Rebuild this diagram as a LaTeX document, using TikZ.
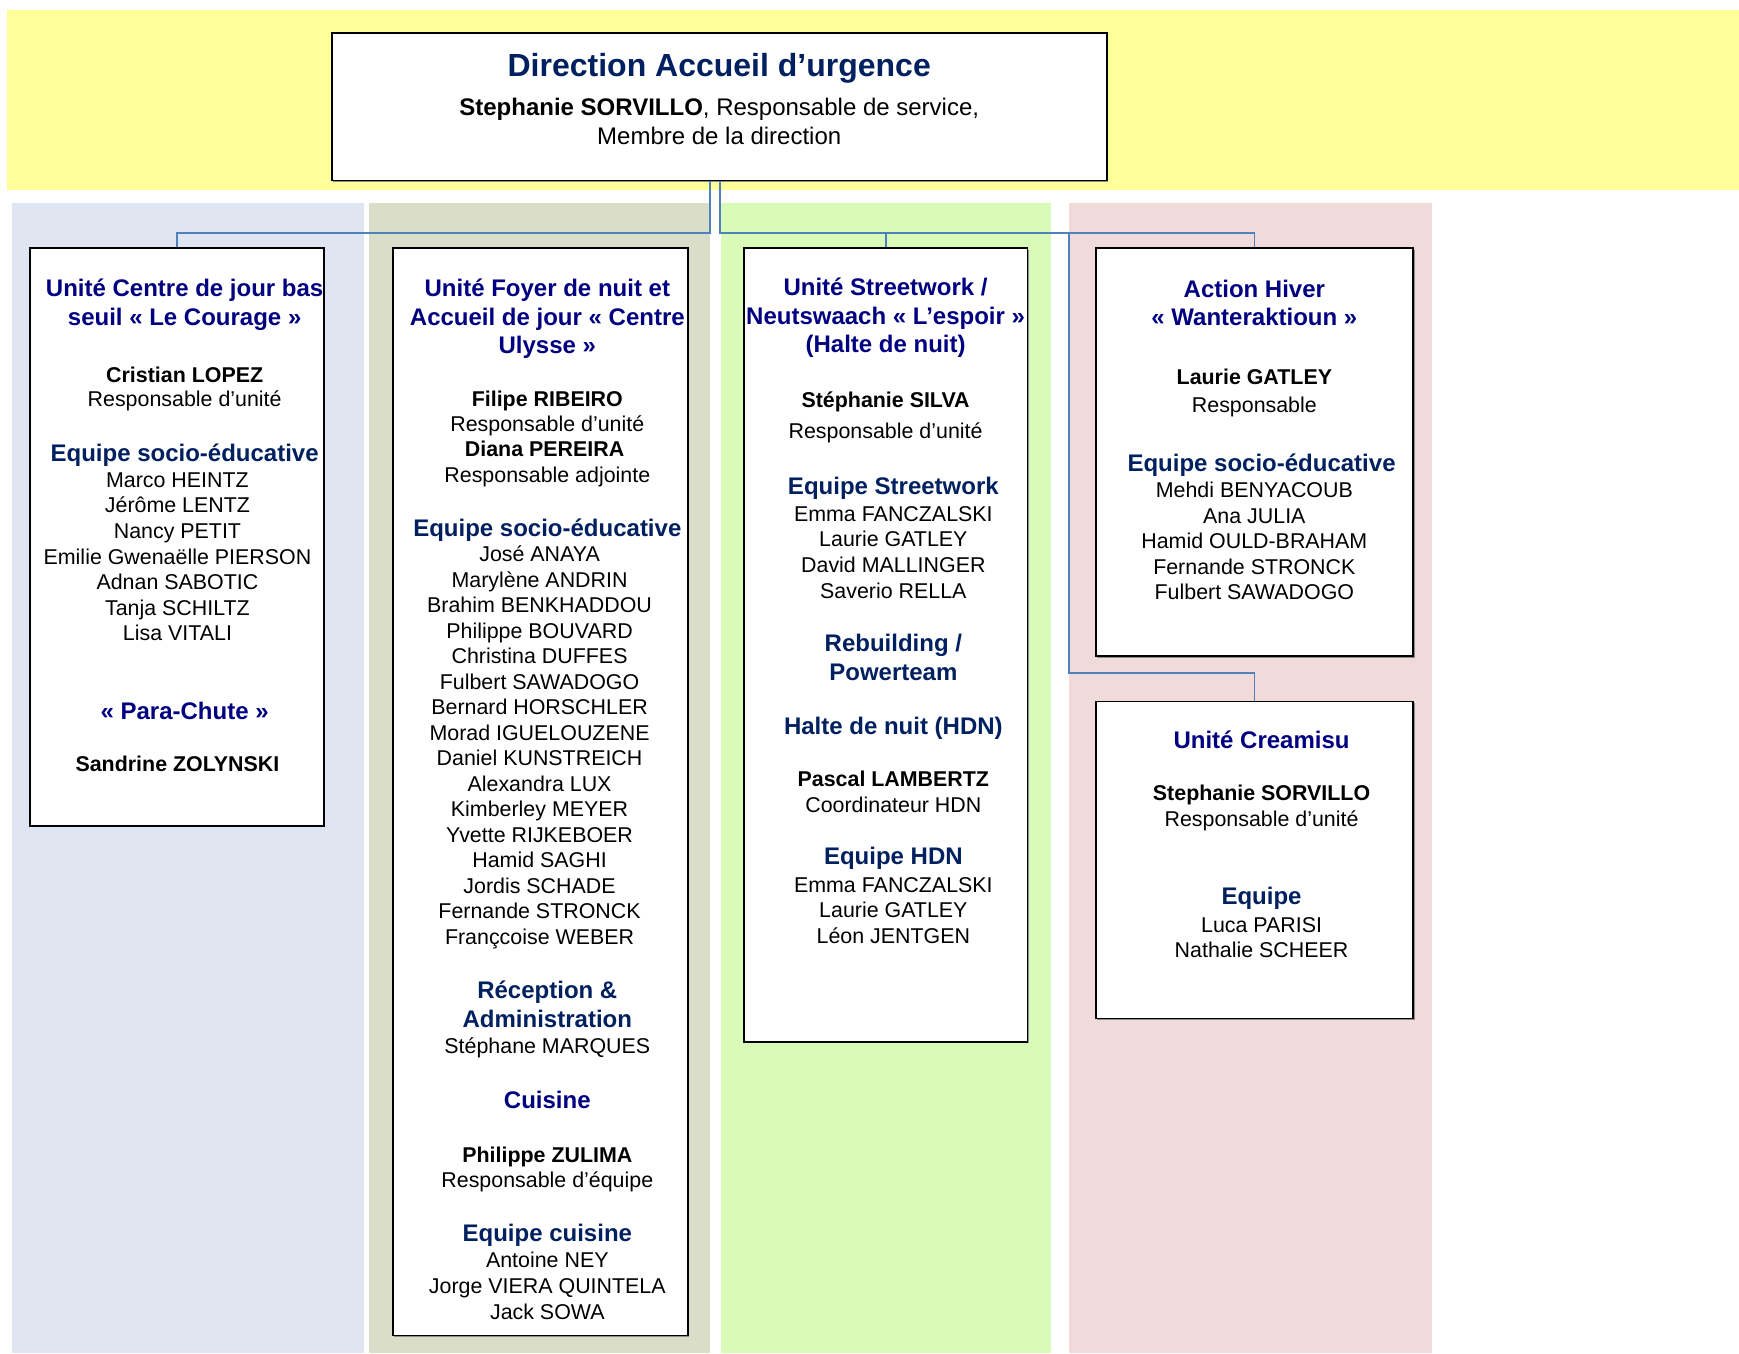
\documentclass[tikz,border=0pt]{standalone}
\usepackage{fontspec}
\setmainfont{Liberation Sans}
\usetikzlibrary{shadows,fit}
\definecolor{navyt}{HTML}{000080}
\definecolor{darkh}{HTML}{002060}
\definecolor{connc}{HTML}{4F81BD}
\definecolor{bandY}{HTML}{FFFF99}
\definecolor{bandB}{HTML}{DFE6F1}
\definecolor{bandO}{HTML}{DADEC8}
\definecolor{bandG}{HTML}{D8FBB8}
\definecolor{bandP}{HTML}{F1DBDA}
\newcommand\putl[5]{\node[#2,anchor=base,inner sep=0pt] (#1) at (#3,#4) {#5};}
\tikzset{
  orgbox/.style={draw=black, line width=0.9pt, fill=white, inner sep=0pt,
    drop shadow={shadow xshift=0.8pt, shadow yshift=-0.8pt, fill=black!45, opacity=1}},
  conn/.style={draw=connc, line width=0.8pt},
  ttl/.style={font=\fontsize{12}{14}\selectfont\bfseries, text=navyt},
  hdg/.style={font=\fontsize{12}{14}\selectfont\bfseries, text=darkh},
  nme/.style={font=\fontsize{10.7}{12.8}\selectfont\bfseries},
  reg/.style={font=\fontsize{10.7}{12.8}\selectfont},
  bigttl/.style={font=\fontsize{16}{19}\selectfont\bfseries, text=darkh},
  topl/.style={font=\fontsize{12}{14}\selectfont},
}
\begin{document}
\begin{tikzpicture}[x=0.5545pt, y=-0.5541pt]
\useasboundingbox (0,0) rectangle (1568,1221);
% background bands
\fill[bandY] (6,9) rectangle (1568,171.5);
\fill[bandB] (11,183) rectangle (328,1221);
\fill[bandO] (333,183) rectangle (640,1221);
\fill[bandG] (650,183) rectangle (948,1221);
\fill[bandP] (964,183) rectangle (1291,1221);
% boxes
\node[orgbox, fit={(299,29.5) (998,162.9)}] (root) {};
\node[orgbox, fit={(27,224) (292,745)}] (b1) {};
\node[orgbox, fit={(354,224) (620,1205)}] (b2) {};
\node[orgbox, fit={(671,224) (926.5,940)}] (b3) {};
\node[orgbox, fit={(988,224) (1274,592)}] (b4) {};
\node[orgbox, fit={(988,633) (1274,919)}] (b5) {};
% connectors
\coordinate (j1) at (640,210.5);
\coordinate (j2) at (649,210.5);
\coordinate (j3) at (964,210.5);
\coordinate (j4) at (964,607.3);
\draw[conn] (root.south -| j1) -- (j1) -| (b1.north);
\draw[conn] (root.south -| j2) -- (j2) -| (b3.north);
\draw[conn] (j2) -| (b4.north);
\draw[conn] (j3) -- (j4) -| (b5.north);
% root text
\putl{r1}{bigttl}{648.5}{69}{Direction Accueil d’urgence}
\putl{r2}{topl}{648.5}{103.8}{\textbf{Stephanie SORVILLO}, Responsable de service,}
\putl{r3}{topl}{648.5}{130}{Membre de la direction}
% column 1
\putl{a1}{ttl}{166.5}{267.5}{Unité Centre de jour bas}
\putl{a2}{ttl}{166.5}{293.6}{seuil « Le Courage »}
\putl{a3}{nme}{166.5}{345.4}{Cristian LOPEZ}
\putl{a4}{reg}{166.5}{367.2}{Responsable d’unité}
\putl{a5}{hdg}{166.5}{416.1}{Equipe socio-éducative}
\putl{a6}{reg}{160}{439.7}{Marco HEINTZ}
\putl{a7}{reg}{160}{462.6}{Jérôme LENTZ}
\putl{a8}{reg}{160}{486.1}{Nancy PETIT}
\putl{a9}{reg}{160}{509.3}{Emilie Gwenaëlle PIERSON}
\putl{a10}{reg}{160}{532.1}{Adnan SABOTIC}
\putl{a11}{reg}{160}{555}{Tanja SCHILTZ}
\putl{a12}{reg}{160}{578.1}{Lisa VITALI}
\putl{a13}{ttl}{166.5}{649.3}{« Para-Chute »}
\putl{a14}{nme}{160}{696.4}{Sandrine ZOLYNSKI}
% column 2
\putl{c1}{ttl}{493.5}{267.5}{Unité Foyer de nuit et}
\putl{c2}{ttl}{493.5}{293.4}{Accueil de jour « Centre}
\putl{c3}{ttl}{493.5}{318.6}{Ulysse »}
\putl{c4}{nme}{493.5}{367}{Filipe RIBEIRO}
\putl{c5}{reg}{493.5}{389.4}{Responsable d’unité}
\putl{c6}{nme}{491}{411.8}{Diana PEREIRA}
\putl{c7}{reg}{493.5}{435.3}{Responsable adjointe}
\putl{c8}{hdg}{493.5}{483.7}{Equipe socio-éducative}
\putl{c9}{reg}{486.5}{506.9}{José ANAYA}
\putl{c10}{reg}{486.5}{529.9}{Marylène ANDRIN}
\putl{c11}{reg}{486.5}{552.9}{Brahim BENKHADDOU}
\putl{c12}{reg}{486.5}{575.9}{Philippe BOUVARD}
\putl{c13}{reg}{486.5}{598.9}{Christina DUFFES}
\putl{c14}{reg}{486.5}{621.9}{Fulbert SAWADOGO}
\putl{c15}{reg}{486.5}{645}{Bernard HORSCHLER}
\putl{c16}{reg}{486.5}{668}{Morad IGUELOUZENE}
\putl{c17}{reg}{486.5}{691}{Daniel KUNSTREICH}
\putl{c18}{reg}{486.5}{714}{Alexandra LUX}
\putl{c19}{reg}{486.5}{737}{Kimberley MEYER}
\putl{c20}{reg}{486.5}{760}{Yvette RIJKEBOER}
\putl{c21}{reg}{486.5}{783}{Hamid SAGHI}
\putl{c22}{reg}{486.5}{806}{Jordis SCHADE}
\putl{c23}{reg}{486.5}{829}{Fernande STRONCK}
\putl{c24}{reg}{486.5}{852}{Françcoise WEBER}
\putl{c25}{hdg}{493.5}{901}{Réception \&}
\putl{c26}{hdg}{493.5}{927}{Administration}
\putl{c27}{reg}{493.5}{951}{Stéphane MARQUES}
\putl{c28}{ttl}{493.5}{1000}{Cuisine}
\putl{c29}{nme}{493.5}{1049.2}{Philippe ZULIMA}
\putl{c30}{reg}{493.5}{1071.4}{Responsable d’équipe}
\putl{c31}{hdg}{493.5}{1120.5}{Equipe cuisine}
\putl{c32}{reg}{493.5}{1143.9}{Antoine NEY}
\putl{c33}{reg}{493.5}{1167}{Jorge VIERA QUINTELA}
\putl{c34}{reg}{493.5}{1190.2}{Jack SOWA}
% column 3
\putl{d1}{ttl}{798.5}{267}{Unité Streetwork /}
\putl{d2}{ttl}{798.5}{293}{Neutswaach « L’espoir »}
\putl{d3}{ttl}{798.5}{318}{(Halte de nuit)}
\putl{d4}{nme}{798.5}{368}{Stéphanie SILVA}
\putl{d5}{reg}{798.5}{396}{Responsable d’unité}
\putl{d6}{hdg}{805.5}{446}{Equipe Streetwork}
\putl{d7}{reg}{805.5}{471}{Emma FANCZALSKI}
\putl{d8}{reg}{805.5}{493}{Laurie GATLEY}
\putl{d9}{reg}{805.5}{517}{David MALLINGER}
\putl{d10}{reg}{805.5}{540}{Saverio RELLA}
\putl{d11}{hdg}{805.5}{588}{Rebuilding /}
\putl{d12}{hdg}{805.5}{614}{Powerteam}
\putl{d13}{hdg}{805.5}{663}{Halte de nuit (HDN)}
\putl{d14}{nme}{805.5}{710}{Pascal LAMBERTZ}
\putl{d15}{reg}{805.5}{733}{Coordinateur HDN}
\putl{d16}{hdg}{805.5}{780}{Equipe HDN}
\putl{d17}{reg}{805.5}{805}{Emma FANCZALSKI}
\putl{d18}{reg}{805.5}{828}{Laurie GATLEY}
\putl{d19}{reg}{805.5}{851}{Léon JENTGEN}
% column 4
\putl{e1}{ttl}{1131}{268}{Action Hiver}
\putl{e2}{ttl}{1131}{294}{« Wanteraktioun »}
\putl{e3}{nme}{1131}{347}{Laurie GATLEY}
\putl{e4}{reg}{1131}{372}{Responsable}
\putl{e5}{hdg}{1137.5}{425}{Equipe socio-éducative}
\putl{e6}{reg}{1131}{449}{Mehdi BENYACOUB}
\putl{e7}{reg}{1131}{472}{Ana JULIA}
\putl{e8}{reg}{1131}{495}{Hamid OULD-BRAHAM}
\putl{e9}{reg}{1131}{518}{Fernande STRONCK}
\putl{e10}{reg}{1131}{541}{Fulbert SAWADOGO}
% column 5
\putl{f1}{ttl}{1137.5}{675}{Unité Creamisu}
\putl{f2}{nme}{1137.5}{722}{Stephanie SORVILLO}
\putl{f3}{reg}{1137.5}{746}{Responsable d’unité}
\putl{f4}{hdg}{1137.5}{816}{Equipe}
\putl{f5}{reg}{1137.5}{841}{Luca PARISI}
\putl{f6}{reg}{1137.5}{864}{Nathalie SCHEER}
\end{tikzpicture}
\end{document}
